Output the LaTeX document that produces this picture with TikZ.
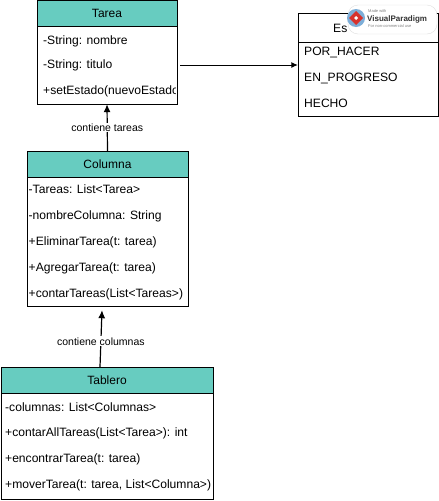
\documentclass[tikz,border=0pt]{standalone}
\usepackage{fontspec}
\setmainfont{Liberation Sans}
\usetikzlibrary{arrows.meta}
\definecolor{headteal}{RGB}{103,204,192}
\definecolor{vpblue}{RGB}{70,140,200}
\definecolor{vpred}{RGB}{215,50,45}

\begin{document}
\begin{tikzpicture}[x=1pt, y=-1pt,
    head/.style={draw, fill=headteal, minimum height=26pt, inner sep=0pt,
                 font=\fontsize{12}{14}\selectfont},
    body/.style={draw, fill=white, inner sep=0pt},
    attr/.style={anchor=west, inner sep=0pt, font=\fontsize{12.1}{14}\selectfont},
    lbl/.style={fill=white, inner sep=1pt, font=\fontsize{10.5}{12}\selectfont},
    arr/.style={-{Latex[length=8pt,width=7pt]}, line width=1.2pt},
    thinarr/.style={-{Latex[length=6.5pt,width=6pt]}, line width=0.9pt}
]
\useasboundingbox (0,0) rectangle (439,501);

% Tarea
\node[head, minimum width=140pt] (tareaHead) at (107,13) {Tarea};
\node[body, minimum width=140pt, minimum height=78pt] (tareaBody) at (107,65) {};
\node[attr] (tareaA1) at (43,41) {-String: nombre};
\node[attr] (tareaA2) at (43,65) {-String: titulo};
\begin{scope}
  \clip (tareaBody.south west) rectangle ([xshift=-2pt]tareaBody.north east);
  \node[attr] (tareaM1) at (43,91) {+setEstado(nuevoEstado)};
\end{scope}

% Estado
\node[head, minimum width=140pt, minimum height=29pt, fill=white] (estHead) at (368,27.5) {};
\node[attr] (estName) at (333,28) {Es};
\node[body, minimum width=140pt, minimum height=74pt] (estBody) at (368,79) {};
\node[attr] (estV1) at (304,52) {POR\_HACER};
\node[attr] (estV2) at (304,78) {EN\_PROGRESO};
\node[attr] (estV3) at (304,103) {HECHO};

% Columna
\node[head, minimum width=161pt] (colHead) at (107.5,164) {Columna};
\node[body, minimum width=161pt, minimum height=129pt] (colBody) at (107.5,241.5) {};
\node[attr] (colA1) at (28.5,189) {-Tareas: List<Tarea>};
\node[attr] (colA2) at (28.5,216) {-nombreColumna: String};
\node[attr] (colM1) at (28.5,242) {+EliminarTarea(t: tarea)};
\node[attr] (colM2) at (28.5,268) {+AgregarTarea(t: tarea)};
\node[attr] (colM3) at (28.5,294) {+contarTareas(List<Tareas>)};

% Tablero
\node[head, minimum width=212pt] (tabHead) at (107,380) {Tablero};
\node[body, minimum width=212pt, minimum height=106pt] (tabBody) at (107,446) {};
\node[attr] (tabA1) at (5,407) {-columnas: List<Columnas>};
\node[attr] (tabM1) at (5,433) {+contarAllTareas(List<Tarea>): int};
\node[attr] (tabM2) at (5,459) {+encontrarTarea(t: tarea)};
\node[attr] (tabM3) at (5,485) {+moverTarea(t: tarea, List<Columna>)};

% relaciones
\draw[thinarr] ([xshift=3pt]tareaBody.east) -- (tareaBody.east -| estBody.west);
\draw[arr] (colHead.north) -- node[lbl] (lblTareas) {contiene tareas} (tareaBody.south);
\draw[arr] ([xshift=-7pt]tabHead.north) -- node[lbl, pos=0.45] (lblColumnas) {contiene columnas}
           ([xshift=-5.5pt, yshift=-4pt]colBody.south);

% marca de agua
\draw[gray!25, fill=white, rounded corners=10pt] (348,5) rectangle (437,34);
\fill[vpblue!70] (356,18) circle (9pt);
\fill[vpred] (356,11) -- (363,18) -- (356,25) -- (349,18) -- cycle;
\fill[white] (356,16) -- (358,18) -- (356,20) -- (354,18) -- cycle;
\node[anchor=west, inner sep=0pt, text=gray, font=\fontsize{4}{5}\selectfont] (wmMade) at (368,11) {Made with};
\node[anchor=west, inner sep=0pt, text=black!80, font=\fontsize{8}{9}\selectfont\bfseries] (wmName) at (367,19) {VisualParadigm};
\node[anchor=west, inner sep=0pt, text=gray, font=\fontsize{4}{5}\selectfont] (wmUse) at (368,26.5) {For non-commercial use};
\end{tikzpicture}
\end{document}
